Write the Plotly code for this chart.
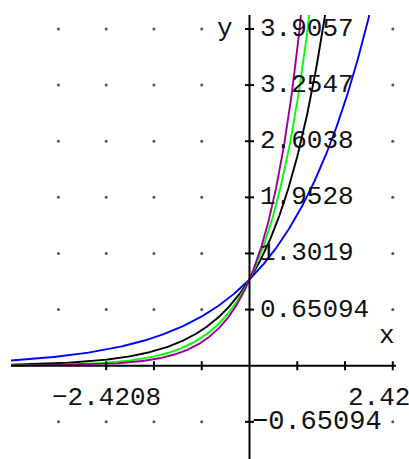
import numpy as np
import plotly.graph_objects as go

# exponential curves y = b**x
bases = [2, 3, 4, 5]
curve_colors = ["#0000ff", "#000000", "#00ff00", "#990099"]

# tick values
x_tick_step = 0.80693
x_label_ticks = [-2.4208, 2.4208]
x_label_text = ["\u22122.4208", "2.4208"]
y_ticks = [-0.65094, 0.65094, 1.3019, 1.9528, 2.6038, 3.2547, 3.9057]
y_tick_text = ["\u22120.65094", "0.65094", "1.3019", "1.9528", "2.6038", "3.2547", "3.9057"]

X_RANGE = [-4.029, 2.475]
Y_RANGE = [-1.082, 4.068]

W, H = 409, 459
ML, MR, MT, MB = 11, 13, 15, 0

fig = go.Figure()

# grid dots (columns under the tick labels are hidden by the label boxes)
x_cols = [k * x_tick_step for k in range(-4, 4) if k != 0]
x_cols = [v for v in x_cols if X_RANGE[0] + 0.2 < v and not (0 < v < 2.0)]
gx, gy = [], []
for yv in y_ticks:
    for xv in x_cols:
        gx.append(xv)
        gy.append(yv)
fig.add_trace(go.Scatter(x=gx, y=gy, mode="markers",
                         marker=dict(size=3, color="#555555", line=dict(width=0)),
                         hoverinfo="skip", showlegend=False))

# axis tick marks
px_per_x = (W - ML - MR) / (X_RANGE[1] - X_RANGE[0])
px_per_y = (H - MT - MB) / (Y_RANGE[1] - Y_RANGE[0])
tick_half = 4.5
xt = [k * x_tick_step for k in range(-3, 4) if k != 0]
for xv in xt:
    fig.add_shape(type="line", x0=xv, x1=xv, y0=-tick_half / px_per_y, y1=tick_half / px_per_y,
                  line=dict(color="black", width=2), layer="above")
for yv in y_ticks:
    fig.add_shape(type="line", y0=yv, y1=yv, x0=-tick_half / px_per_x, x1=tick_half / px_per_x,
                  line=dict(color="black", width=2), layer="above")

# axes through the origin
fig.add_shape(type="line", x0=X_RANGE[0], x1=X_RANGE[1], y0=0, y1=0,
              line=dict(color="black", width=2), layer="above")
fig.add_shape(type="line", x0=0, x1=0, y0=Y_RANGE[0], y1=Y_RANGE[1],
              line=dict(color="black", width=2), layer="above")

# curves
xs = np.linspace(X_RANGE[0], X_RANGE[1], 800)
for b, c in zip(bases, curve_colors):
    fig.add_trace(go.Scatter(x=xs, y=np.power(float(b), xs), mode="lines",
                             line=dict(color=c, width=1.9), hoverinfo="skip",
                             showlegend=False))

font = dict(family="Liberation Mono", size=26, color="#111111")
annotations = []
for v, t in zip(y_ticks, y_tick_text):
    annotations.append(dict(x=0, y=v, text=t, showarrow=False, xanchor="left",
                            yanchor="middle", xshift=1 if v < 0 else 9,
                            font=dict(font, size=27) if v < 0 else font))
for v, t in zip(x_label_ticks, x_label_text):
    annotations.append(dict(x=v, y=0, text=t, showarrow=False, xanchor="center",
                            yanchor="middle", yshift=-32, xshift=2 if v > 0 else 0, font=font))
annotations.append(dict(x=2.32, y=0.35, text="x", showarrow=False, xanchor="center",
                        yanchor="middle", font=font))
annotations.append(dict(x=-0.41, y=3.9057, text="y", showarrow=False, xanchor="center",
                        yanchor="middle", font=font))

fig.update_layout(
    width=W, height=H, autosize=False,
    margin=dict(l=ML, r=MR, t=MT, b=MB, pad=0),
    paper_bgcolor="white", plot_bgcolor="white",
    xaxis=dict(range=X_RANGE, showgrid=False, zeroline=False, showticklabels=False,
               ticks="", showline=False, fixedrange=True),
    yaxis=dict(range=Y_RANGE, showgrid=False, zeroline=False, showticklabels=False,
               ticks="", showline=False, fixedrange=True),
    annotations=annotations,
    showlegend=False,
)

fig.write_html("out.html", config={"displayModeBar": False})
